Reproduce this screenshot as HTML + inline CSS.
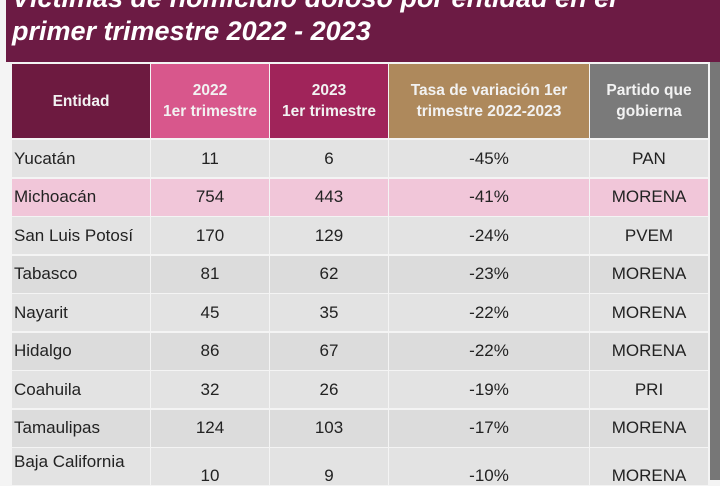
<!DOCTYPE html><html><head><style>
body{margin:0;width:720px;height:480px;overflow:hidden;background:#f4f4f4;font-family:"Liberation Sans",sans-serif;position:relative}
.banner{position:absolute;left:6px;top:0;width:714px;height:62px;background:#6c1b44}
.t{position:absolute;left:12px;color:#fff;font-style:italic;font-weight:bold;font-size:27px;white-space:nowrap}
.c{position:absolute;display:flex;align-items:center;justify-content:center;text-align:center;box-sizing:border-box;color:#222;font-size:17px}
.h{color:#f2f2f2;font-size:15.5px;font-weight:bold;line-height:21px}
.l{justify-content:flex-start;padding-left:2px}
</style></head><body>
<div class="banner"></div>
<div class="t" style="top:-17px">Víctimas de homicidio doloso por entidad en el</div>
<div class="t" style="top:16px">primer trimestre 2022 - 2023</div>
<div style="position:absolute;left:710px;top:62px;width:10px;height:418px;background:#777"></div>
<div class="c h" style="left:12px;top:64px;width:138px;height:74px;background:#6d1a40">Entidad</div>
<div class="c h" style="left:151px;top:64px;width:118px;height:74px;background:#d8578c">2022<br>1er trimestre</div>
<div class="c h" style="left:270px;top:64px;width:118px;height:74px;background:#a0245a">2023<br>1er trimestre</div>
<div class="c h" style="left:389px;top:64px;width:200px;height:74px;background:#ae895c">Tasa de variación 1er<br>trimestre 2022-2023</div>
<div class="c h" style="left:590px;top:64px;width:118px;height:74px;background:#7a7a7a">Partido que<br>gobierna</div>
<div id="rows"></div>
<script>
var d=[["Yucatán",11,6,"-45%","PAN"],["Michoacán",754,443,"-41%","MORENA"],["San Luis Potosí",170,129,"-24%","PVEM"],["Tabasco",81,62,"-23%","MORENA"],["Nayarit",45,35,"-22%","MORENA"],["Hidalgo",86,67,"-22%","MORENA"],["Coahuila",32,26,"-19%","PRI"],["Tamaulipas",124,103,"-17%","MORENA"],["Baja California",10,9,"-10%","MORENA"]];
var xs=[[12,138],[151,118],[270,118],[389,200],[590,118]],h="";
d.forEach(function(r,i){var y=140+i*38.5,bg=i==1?"#f1c6d9":(i%2?"#dcdcdc":"#e3e3e3");
r.forEach(function(v,j){var extra=(i==8&&j==0)?"align-items:flex-start;padding-top:4px;":(i==8?"padding-top:18px;":"");
h+='<div class="c'+(j==0?' l':'')+'" style="left:'+xs[j][0]+'px;top:'+y+'px;width:'+xs[j][1]+'px;height:37px;background:'+bg+';'+extra+'">'+v+'</div>';});});
document.getElementById("rows").innerHTML=h;
</script>
</body></html>
